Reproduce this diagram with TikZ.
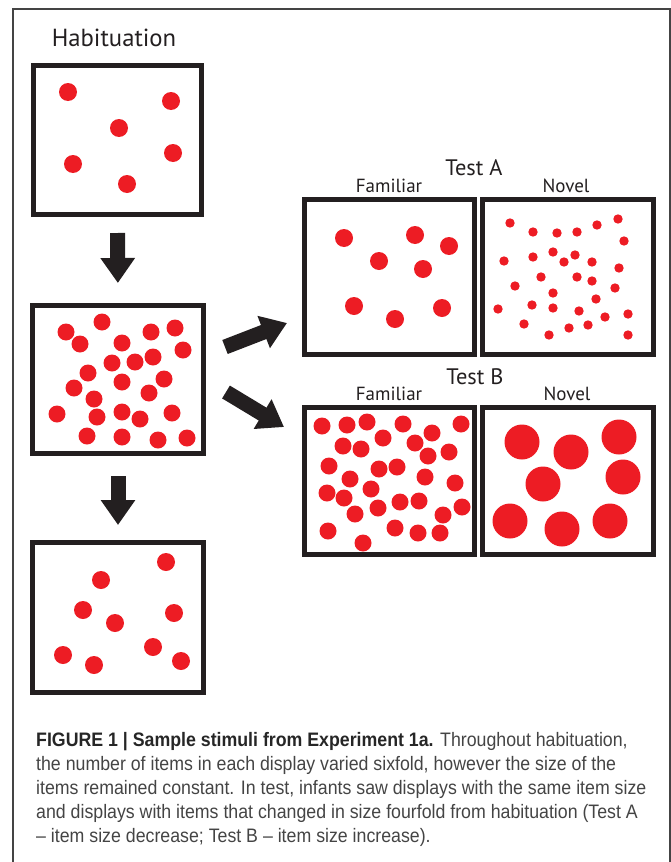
\documentclass[tikz,border=0pt]{standalone}
\usepackage{fontspec}
\setmainfont{PT Sans}
\newfontfamily\capfont[FakeStretch=0.91,Ligatures=TeX]{Liberation Sans}
\usetikzlibrary{arrows.meta,positioning}
\definecolor{dotred}{HTML}{ED1C24}
\definecolor{boxgray}{HTML}{231F20}
\definecolor{capgray}{HTML}{444444}

\begin{document}
\begin{tikzpicture}[x=1pt,y=-1pt,
  panel/.style={draw=boxgray,line width=5pt,minimum width=171pt,minimum height=149pt},
  dot/.style={fill=dotred},
  bigarrow/.style={draw=boxgray,line width=15pt,-{Triangle[length=25pt 0 0,width=33pt 0 0]}},
  lbl/.style={anchor=base,text=boxgray}]
\tikzstyle{every node}+=[inner sep=0pt]
\useasboundingbox (0,0) rectangle (671,862);
\draw[capgray,line width=1.3pt] (13,862) -- (13,9) -- (670,9) -- (670,862);

\node[lbl,font=\fontsize{24.7}{28}\selectfont] (habtitle) at (114,46) {Habituation};
\node[panel,minimum width=168pt] (hab1) at (117.5,140) {};
\node[panel,minimum height=148pt] (hab2) at (118,379.5) {};
\node[panel,minimum height=150pt] (hab3) at (118,617.5) {};

\node[panel,minimum width=170pt,minimum height=155pt] (famA) at (389.5,277) {};
\node[panel,minimum height=155pt] (novA) at (568,277) {};
\node[panel,minimum width=170pt,minimum height=147pt] (famB) at (389.5,481) {};
\node[panel,minimum height=147pt] (novB) at (568,481) {};

\node[lbl,font=\fontsize{22.4}{26}\selectfont] (testA) at (474,175) {Test A};
\node[lbl,font=\fontsize{19}{22}\selectfont] (famAlbl) at (389,192) {Familiar};
\node[lbl,font=\fontsize{19}{22}\selectfont] (novAlbl) at (566,192) {Novel};
\node[lbl,font=\fontsize{22.4}{26}\selectfont] (testB) at (475,384) {Test B};
\node[lbl,font=\fontsize{19}{22}\selectfont] (famBlbl) at (389,400) {Familiar};
\node[lbl,font=\fontsize{19}{22}\selectfont] (novBlbl) at (567,400) {Novel};

\foreach \x/\y in {68/92,171/101,119/128,173/153,73/164,127/184}
  \fill[dot] (\x,\y) circle (9pt);
\foreach \x/\y in {102/322,66/332,80/344,151/332,175/328,122/343,183/350,112/363,
  135/362,153/357,88/373,122/382,164/379,74/388,149/393,94/399,57/414,97/417,
  122/412,140/419,172/413,87/436,122/437,158/440,187/438}
  \fill[dot] (\x,\y) circle (8.5pt);
\foreach \x/\y in {166/562,101/580,83/610,174/613,115/623,63/655,94/665,153/647,181/661}
  \fill[dot] (\x,\y) circle (9pt);

\foreach \x/\y in {344/238,415/235,449/246,379/261,423/269,354/306,395/319,442/308}
  \fill[dot] (\x,\y) circle (9pt);
\foreach \x/\y in {510/223,533/232,557/233,577/232,597/225,618/219,624/241,504/261,
  533/257,553/252,564/262,575/255,592/262,619/268,541/277,577/277,592/281,515/286,
  553/293,615/288,596/299,498/309,532/305,553/308,579/311,605/317,628/314,524/324,
  569/328,588/325,549/335,628/335}
  \fill[dot] (\x,\y) circle (4.7pt);
\foreach \x/\y in {322/426,347/425,367/422,403/424,461/424,343/446,361/449,383/438,
  415/443,432/433,428/456,449/452,329/466,379/469,397/467,425/477,350/479,455/483,
  327/493,344/498,371/489,378/508,400/502,419/501,355/514,443/515,462/507,328/531,
  395/528,418/533,440/533,363/543}
  \fill[dot] (\x,\y) circle (8.5pt);
\foreach \x/\y in {522/442,571/452,619/437,543/484,623/477,510/521,562/529,610/521}
  \fill[dot] (\x,\y) circle (17.5pt);

\draw[bigarrow,shorten <=16pt,shorten >=20pt] (hab1.south) -- (hab2.north);
\draw[bigarrow,shorten <=20pt,shorten >=15pt] (hab2.south) -- (hab3.north);
\coordinate (upTail) at (225,347);
\coordinate (upTip) at (287,323);
\coordinate (dnTail) at (226,392);
\coordinate (dnTip) at (284,427);
\draw[bigarrow] (upTail) -- (upTip);
\draw[bigarrow] (dnTail) -- (dnTip);

\node[anchor=north west,align=left,text=capgray,font=\capfont\fontsize{19.5}{24}\selectfont] (caption) at (36,732)
  {\textbf{\color{black!85}FIGURE 1 | Sample stimuli from Experiment 1a.} Throughout habituation,\\
  the number of items in each display varied sixfold, however the size of the\\
  items remained constant. In test, infants saw displays with the same item size\\
  and displays with items that changed in size fourfold from habituation (Test A\\
  – item size decrease; Test B – item size increase).};
\end{tikzpicture}
\end{document}
